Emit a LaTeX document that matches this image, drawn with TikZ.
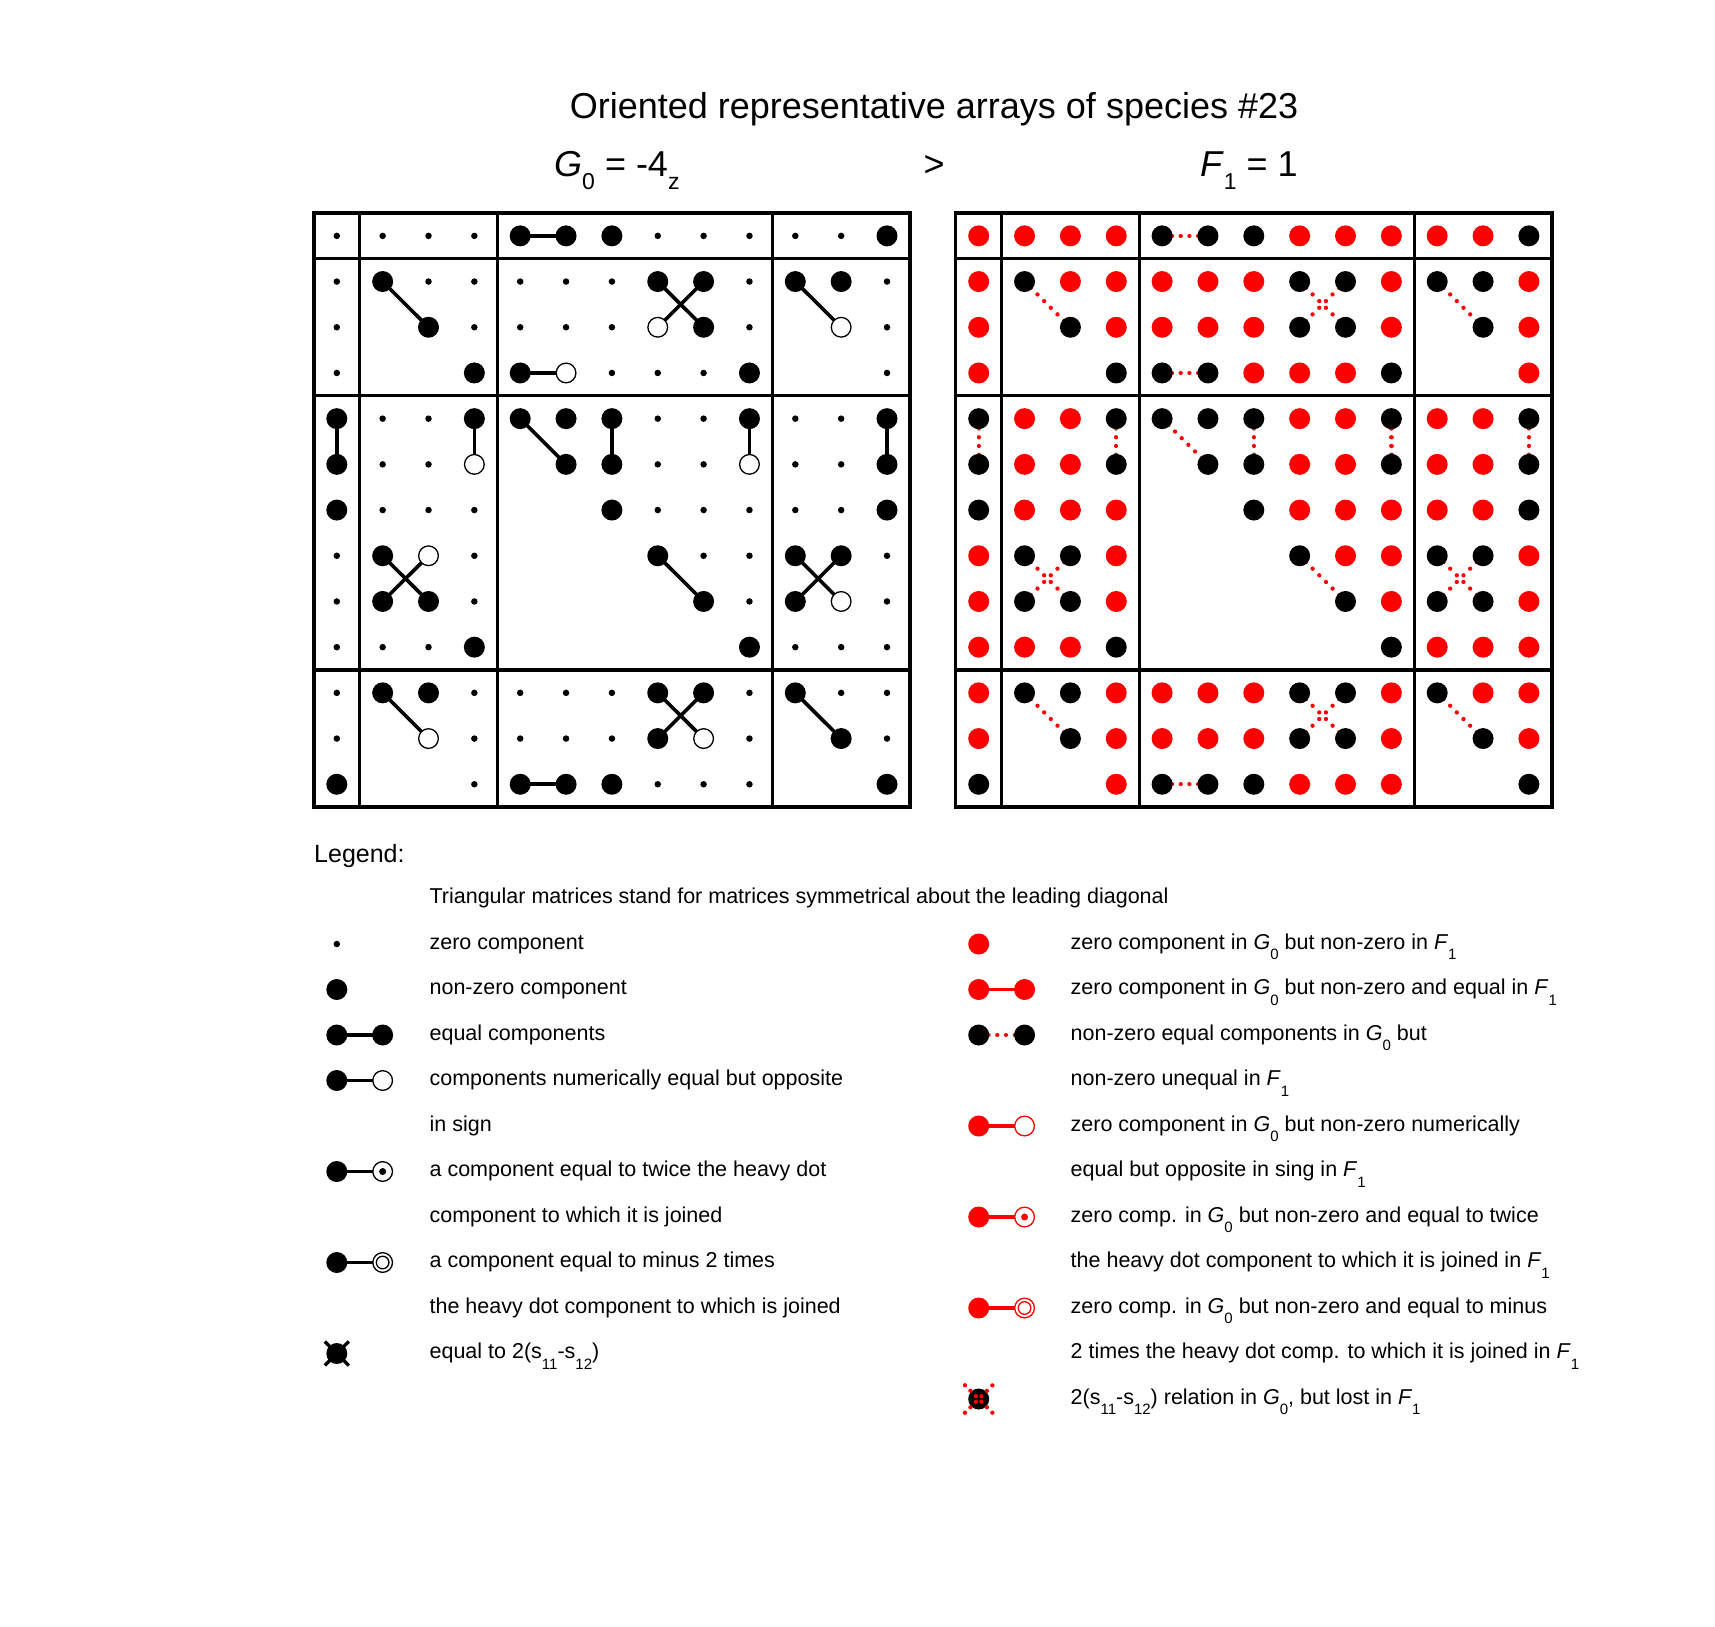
\documentclass[tikz,border=0pt]{standalone}
\usepackage{fontspec}
\setmainfont{Liberation Sans}
\pgfdeclarelayer{bg}
\pgfdeclarelayer{paper}
\pgfsetlayers{paper,bg,main}
\newcommand\mysubH[1]{\raisebox{-13pt}{\fontsize{23}{23}\selectfont #1}}
\newcommand\mysubL[1]{\raisebox{-10.5pt}{\fontsize{15}{15}\selectfont #1}}
\newcommand\myG{\textit{G}\mysubL{0}}
\newcommand\myF{\textit{F}\mysubL{1}}
\begin{document}
\begin{tikzpicture}[x=1pt,y=-1pt,
  zdot/.style={circle, fill=black, inner sep=0pt, minimum size=6.5pt},
  bdot/.style={circle, fill=black, inner sep=0pt, minimum size=21pt},
  rdot/.style={circle, fill=red, inner sep=0pt, minimum size=21pt},
  wdot/.style={circle, draw=#1, fill=white, line width=1.3pt, inner sep=0pt, minimum size=19.7pt},
  wdot/.default=black,
  twicedot/.style={wdot=#1, path picture={\fill[#1] (path picture bounding box.center) circle (3.5pt);}},
  minusdot/.style={wdot=#1, path picture={\draw[#1, line width=1.3pt] (path picture bounding box.center) circle (6.3pt);}},
  cellLd/.style={zdot}, cellLb/.style={bdot}, cellLw/.style={wdot=black},
  cellRd/.style={rdot}, cellRb/.style={bdot}, cellRw/.style={bdot},
  gridline/.style={line width=3.3pt, line cap=rect},
  eqlink/.style={line width=3.6pt},
  losth/.style={red, line width=4.3pt, line cap=round, dash pattern=on 0.01pt off 8.7pt, dash phase=7.55pt},
  lostd/.style={red, line width=4.3pt, line cap=round, dash pattern=on 0.01pt off 9.4pt, dash phase=0.56pt},
  lostx/.style={red, line width=4.3pt, line cap=round, dash pattern=on 0.01pt off 7.74pt},
  legtext/.style={anchor=base west, inner sep=0pt, font=\fontsize{21.5}{26}\selectfont},
  headtext/.style={inner sep=0pt, font=\fontsize{36}{43}\selectfont}
]
\useasboundingbox (0,0) rectangle (1715,1626);
\begin{pgfonlayer}{paper}
\fill[white] (0,0) rectangle (1715,1626);
\end{pgfonlayer}

% headings
\node[headtext, anchor=base] (title) at (934,118) {Oriented representative arrays of species \#23};
\node[headtext, anchor=base west] (hG) at (554,176) {\textit{G}\mysubH{0} = -4\mysubH{z}};
\node[headtext, anchor=base] (hgt) at (934,176) {>};
\node[headtext, anchor=base west] (hF) at (1200,176) {\textit{F}\mysubH{1} = 1};

% grids
\foreach \ox in {0,14} {
  \draw[gridline] ({313.9+45.85*\ox},213) rectangle ({313.9+45.85*(\ox+13)},807.1);
  \foreach \b in {1,4,10} {
    \draw[gridline] ({313.9+45.85*(\ox+\b)},213) -- ({313.9+45.85*(\ox+\b)},807.1);
    \draw[gridline] ({313.9+45.85*\ox},{213+45.7*\b}) -- ({313.9+45.85*(\ox+13)},{213+45.7*\b});
  }
}

% matrix entries
\foreach \row [count=\i from 0] in {
  {d,d,d,d,b,b,b,d,d,d,d,d,b},
  {d,b,d,d,d,d,d,b,b,d,b,b,d},
  {d,n,b,d,d,d,d,w,b,d,n,w,d},
  {d,n,n,b,b,w,d,d,d,b,n,n,d},
  {b,d,d,b,b,b,b,d,d,b,d,d,b},
  {b,d,d,w,n,b,b,d,d,w,d,d,b},
  {b,d,d,d,n,n,b,d,d,d,d,d,b},
  {d,b,w,d,n,n,n,b,d,d,b,b,d},
  {d,b,b,d,n,n,n,n,b,d,b,w,d},
  {d,d,d,b,n,n,n,n,n,b,d,d,d},
  {d,b,b,d,d,d,d,b,b,d,b,d,d},
  {d,n,w,d,d,d,d,b,w,d,n,b,d},
  {b,n,n,d,b,b,b,d,d,d,n,n,b}} {
  \foreach \t [count=\j from 0] in \row {
    \if\t n\else
      \node[cellL\t] (L\i-\j) at ({336.8+45.85*\j},{235.85+45.7*\i}) {};
      \node[cellR\t] (R\i-\j) at ({336.8+45.85*(\j+14)},{235.85+45.7*\i}) {};
    \fi
  }
}

\begin{pgfonlayer}{bg}
\foreach \a/\b/\k in {0-4/0-5/h, 1-1/2-2/d, 1-7/2-8/d, 1-8/2-7/d, 1-10/2-11/d,
  3-4/3-5/h, 4-0/5-0/h, 4-3/5-3/h, 4-4/5-5/d, 4-6/5-6/h, 4-9/5-9/h, 4-12/5-12/h,
  7-1/8-2/d, 7-2/8-1/d, 7-7/8-8/d, 7-10/8-11/d, 7-11/8-10/d,
  10-1/11-2/d, 10-7/11-8/d, 10-8/11-7/d, 10-10/11-11/d, 12-4/12-5/h} {
  \draw[eqlink] (L\a.center) -- (L\b.center);
  \draw[lost\k] (R\a.center) -- (R\b.center);
}
\end{pgfonlayer}

% legend
\node[anchor=base west, inner sep=0pt, font=\fontsize{25}{30}\selectfont] (legend) at (314,862) {Legend:};
\node[legtext] (t0) at (429.4,903.5) {Triangular matrices stand for matrices symmetrical about the leading diagonal};

% left legend symbols
\node[zdot] (la1) at (336.8,944) {};
\node[bdot] (la2) at (336.8,989.5) {};
\node[bdot] (la3) at (336.8,1035) {};
\node[bdot] (lb3) at (382.65,1035) {};
\node[bdot] (la4) at (336.8,1080.5) {};
\node[wdot] (lb4) at (382.65,1080.5) {};
\node[bdot] (la6) at (336.8,1171.5) {};
\node[twicedot=black] (lb6) at (382.65,1171.5) {};
\node[bdot] (la8) at (336.8,1262.5) {};
\node[minusdot=black] (lb8) at (382.65,1262.5) {};
\node[bdot] (la10) at (336.8,1353.5) {};
\draw[line width=3.3pt] ([shift={(-12pt,-12pt)}]la10.center) -- ([shift={(12pt,12pt)}]la10.center);
\draw[line width=3.3pt] ([shift={(-12pt,12pt)}]la10.center) -- ([shift={(12pt,-12pt)}]la10.center);

% right legend symbols
\node[rdot] (ra1) at (978.7,944) {};
\node[rdot] (ra2) at (978.7,989.5) {};
\node[rdot] (rb2) at (1024.55,989.5) {};
\node[bdot] (ra3) at (978.7,1035) {};
\node[bdot] (rb3) at (1024.55,1035) {};
\node[rdot] (ra5) at (978.7,1126) {};
\node[wdot=red] (rb5) at (1024.55,1126) {};
\node[rdot] (ra7) at (978.7,1217) {};
\node[twicedot=red] (rb7) at (1024.55,1217) {};
\node[rdot] (ra9) at (978.7,1308) {};
\node[minusdot=red] (rb9) at (1024.55,1308) {};
\node[bdot] (ra11) at (978.7,1399) {};
\draw[lostx] ([shift={(-13.75pt,-13.75pt)}]ra11.center) -- ([shift={(13.75pt,13.75pt)}]ra11.center);
\draw[lostx] ([shift={(-13.75pt,13.75pt)}]ra11.center) -- ([shift={(13.75pt,-13.75pt)}]ra11.center);

\begin{pgfonlayer}{bg}
\draw[eqlink] (la3.center) -- (lb3.center);
\draw[eqlink] (la4.center) -- (lb4.center);
\draw[eqlink] (la6.center) -- (lb6.center);
\draw[eqlink] (la8.center) -- (lb8.center);
\draw[eqlink, red] (ra2.center) -- (rb2.center);
\draw[losth] (ra3.center) -- (rb3.center);
\draw[eqlink, red] (ra5.center) -- (rb5.center);
\draw[eqlink, red] (ra7.center) -- (rb7.center);
\draw[eqlink, red] (ra9.center) -- (rb9.center);
\end{pgfonlayer}

% left legend texts
\node[legtext] (lt1) at (429.4,949) {zero component};
\node[legtext] (lt2) at (429.4,994.5) {non-zero component};
\node[legtext] (lt3) at (429.4,1040) {equal components};
\node[legtext] (lt4) at (429.4,1085.5) {components numerically equal but opposite};
\node[legtext] (lt5) at (429.4,1131) {in sign};
\node[legtext] (lt6) at (429.4,1176.5) {a component equal to twice the heavy dot};
\node[legtext] (lt7) at (429.4,1222) {component to which it is joined};
\node[legtext] (lt8) at (429.4,1267.5) {a component equal to minus 2 times};
\node[legtext] (lt9) at (429.4,1313) {the heavy dot component to which is joined};
\node[legtext] (lt10) at (429.4,1358.5) {equal to 2(s\mysubL{11}-s\mysubL{12})};

% right legend texts
\node[legtext] (rt1) at (1070.5,949) {zero component in \myG{} but non-zero in \myF};
\node[legtext] (rt2) at (1070.5,994.5) {zero component in \myG{} but non-zero and equal in \myF};
\node[legtext] (rt3) at (1070.5,1040) {non-zero equal components in \myG{} but};
\node[legtext] (rt4) at (1070.5,1085.5) {non-zero unequal in \myF};
\node[legtext] (rt5) at (1070.5,1131) {zero component in \myG{} but non-zero numerically};
\node[legtext] (rt6) at (1070.5,1176.5) {equal but opposite in sing in \myF};
\node[legtext] (rt7) at (1070.5,1222) {zero comp. in \myG{} but non-zero and equal to twice};
\node[legtext] (rt8) at (1070.5,1267.5) {the heavy dot component to which it is joined in \myF};
\node[legtext] (rt9) at (1070.5,1313) {zero comp. in \myG{} but non-zero and equal to minus};
\node[legtext] (rt10) at (1070.5,1358.5) {2 times the heavy dot comp. to which it is joined in \myF};
\node[legtext] (rt11) at (1070.5,1404) {2(s\mysubL{11}-s\mysubL{12}) relation in \myG, but lost in \myF};
\end{tikzpicture}
\end{document}
